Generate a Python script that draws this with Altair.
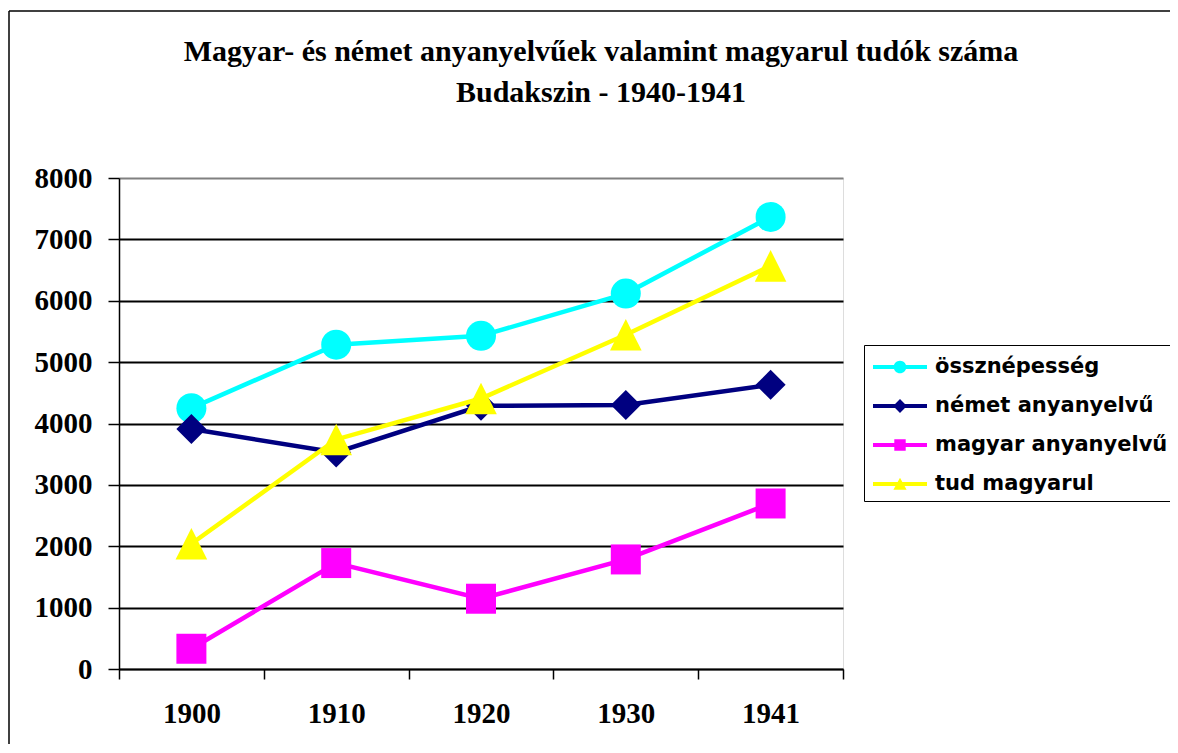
import altair as alt
import pandas as pd

years = ["1900", "1910", "1920", "1930", "1941"]
series = ["össznépesség", "német anyanyelvű", "magyar anyanyelvű", "tud magyarul"]
ossz = [4250, 5285, 5428, 6117, 7366]
nemet = [3909, 3528, 4288, 4300, 4630]
magyar = [330, 1726, 1145, 1785, 2697]
tud = [2040, 3740, 4407, 5445, 6568]
y_ticks = [0, 1000, 2000, 3000, 4000, 5000, 6000, 7000, 8000]
title_lines = ["Magyar- és német anyanyelvűek valamint magyarul tudók száma",
               "Budakszin - 1940-1941"]

colors = ["#00FFFF", "#000080", "#FF00FF", "#FFFF00"]
plot_shapes = ["circle", "diamond", "square", "M0,-1L1,1L-1,1Z"]
plot_sizes = [900, 900, 900, 1000]
legend_paths = [
    "M-1.8,-0.14H1.8V0.14H-1.8Z M-0.42,0 A0.42,0.42 0 1,1 0.42,0 A0.42,0.42 0 1,1 -0.42,0Z",
    "M-1.8,-0.14H1.8V0.14H-1.8Z M0,-0.46L0.46,0L0,0.46L-0.46,0Z",
    "M-1.8,-0.14H1.8V0.14H-1.8Z M-0.38,-0.38H0.38V0.38H-0.38Z",
    "M-1.8,-0.14H1.8V0.14H-1.8Z M0,-0.42L0.44,0.38L-0.44,0.38Z",
]

rows = []
for s, vals in zip(series, [ossz, nemet, magyar, tud]):
    for yr, v in zip(years, vals):
        rows.append({"year": yr, "series": s, "value": v})
df = pd.DataFrame(rows)

x_enc = alt.X("year:O", sort=years,
              scale=alt.Scale(type="band", paddingInner=0, paddingOuter=0),
              axis=alt.Axis(title=None, labelAngle=0, tickBand="extent", tickSize=10,
                            labelPadding=20, domainColor="black", domainWidth=1.5,
                            tickColor="black", tickWidth=1.5, grid=False,
                            labelFont="Liberation Serif", labelFontSize=29,
                            labelFontWeight="bold", labelColor="black"))
y_enc = alt.Y("value:Q",
              scale=alt.Scale(domain=[0, 8000], nice=False),
              axis=alt.Axis(title=None, values=y_ticks, format="d", tickSize=11, labelPadding=16,
                            domainColor="black", domainWidth=1.5, tickColor="black",
                            tickWidth=1.5, grid=True, gridWidth=1.8,
                            gridColor={"condition": {"test": "datum.value >= 8000", "value": "#808080"},
                                       "value": "black"},
                            labelFont="Liberation Serif", labelFontSize=29,
                            labelFontWeight="bold", labelColor="black"))

base = alt.Chart(df)
one = alt.Chart(pd.DataFrame({"a": [0]}))

frame_left = one.mark_rule(color="black", strokeWidth=1.5).encode(
    x=alt.value(-110), y=alt.value(-167), y2=alt.value(700))
frame_top = one.mark_rule(color="black", strokeWidth=1.5).encode(
    x=alt.value(-110), x2=alt.value(1100), y=alt.value(-167))

layers = [frame_left, frame_top]
for s, c, sh, sz in zip(series, colors, plot_shapes, plot_sizes):
    sub = base.transform_filter(alt.datum.series == s)
    layers.append(sub.mark_line(color=c, strokeWidth=4.5).encode(x=x_enc, y=y_enc))
    layers.append(sub.mark_point(shape=sh, size=sz, filled=True, color=c, opacity=1,
                                 strokeWidth=0).encode(x=x_enc, y=y_enc))

leg = alt.Legend(title=None, orient="none", legendX=745, legendY=167,
                 strokeColor="black", fillColor="white", padding=7,
                 labelFont="DejaVu Sans", labelFontSize=21, labelFontWeight="bold",
                 labelColor="black", symbolSize=900, symbolOffset=14, labelOffset=20,
                 rowPadding=14, symbolStrokeWidth=0, symbolOpacity=1, cornerRadius=0,
                 labelLimit=400)

legend_layer = base.transform_filter("false").mark_point(filled=True, opacity=1).encode(
    x=x_enc, y=y_enc,
    color=alt.Color("series:N", scale=alt.Scale(domain=series, range=colors), legend=leg),
    shape=alt.Shape("series:N", scale=alt.Scale(domain=series, range=legend_paths), legend=leg),
)
layers.append(legend_layer)

chart = alt.layer(*layers).properties(
    width=724, height=491,
    padding={"left": 111, "top": 170, "right": 327, "bottom": 75},
    autosize=alt.AutoSizeParams(type="none"),
    title=alt.TitleParams(text=title_lines, font="Liberation Serif", fontSize=30,
                          fontWeight="bold", color="black", anchor="middle", frame="group",
                          baseline="bottom", dx=120, lineHeight=41, offset=-128),
).configure_view(fill="#C0C0C0", stroke="#808080", strokeWidth=1
).configure_legend(strokeWidth=1.5
).configure(background="white")

chart.save("out.html", embed_options={"renderer": "svg", "actions": False})
